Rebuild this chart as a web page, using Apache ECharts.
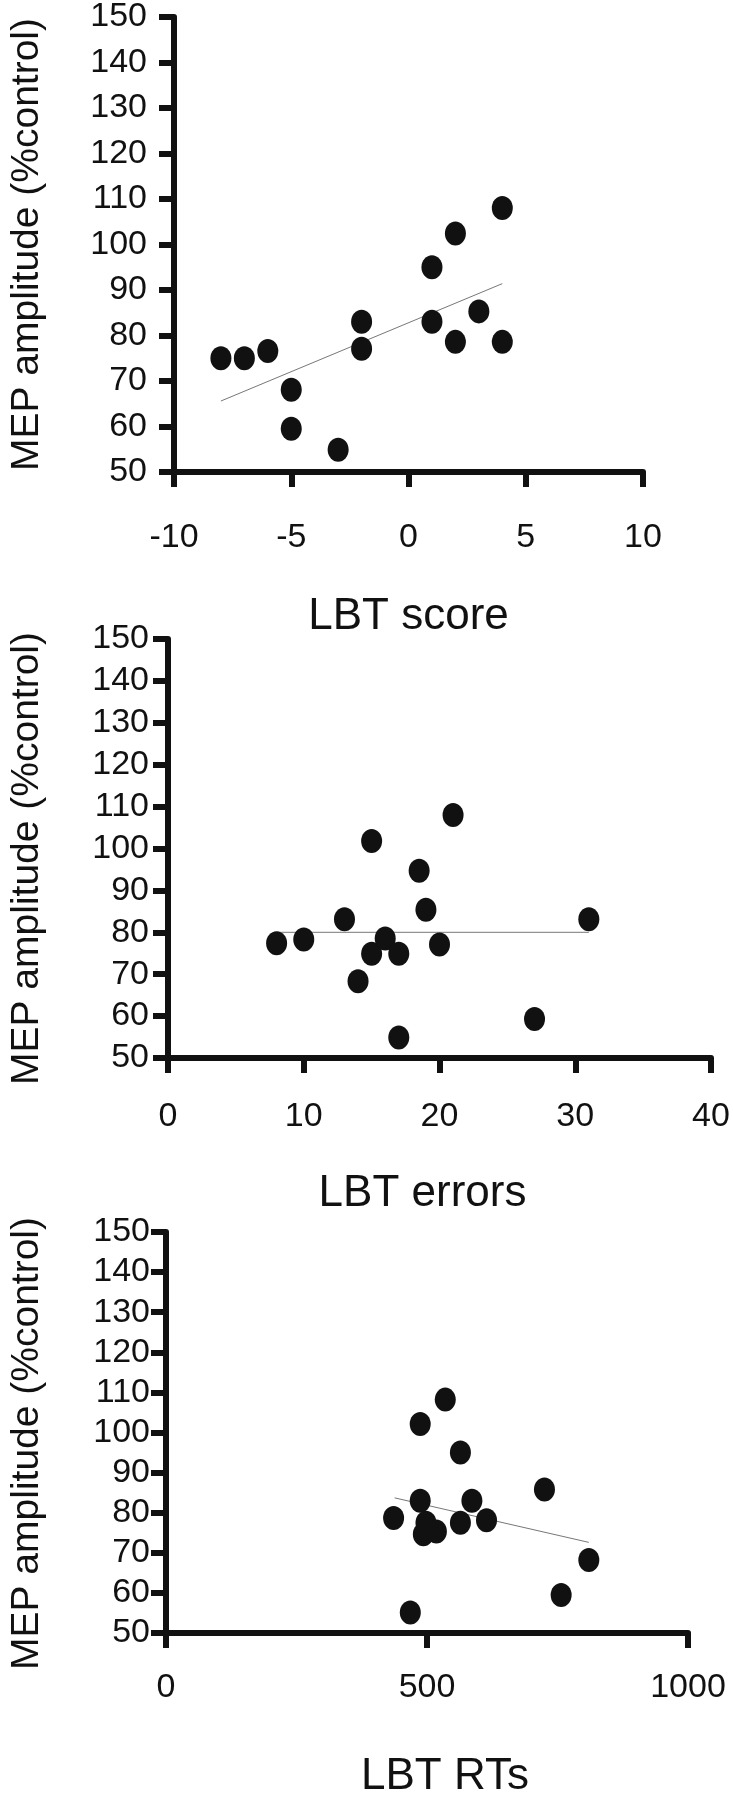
<!DOCTYPE html>
<html>
<head>
<meta charset="utf-8">
<script src="https://cdn.jsdelivr.net/npm/echarts@6/dist/echarts.min.js"></script>
<style>
html,body{margin:0;padding:0;background:#fff;}
#chart{width:733px;height:1800px;}
</style>
</head>
<body>
<div id="chart"></div>
<script>
// ---- Data ----
var yTitle = 'MEP amplitude (%control)';

// Panel 1: LBT score
var scoreX = [-8, -7, -6, -5, -5, -3, -2, -2, 1, 1, 2, 2, 3, 4, 4];
var scoreY = [75, 75, 76.6, 68.1, 59.5, 54.9, 83, 77.1, 95, 83, 102.4, 78.6, 85.3, 108, 78.6];
var scoreFit = [[-8, 65.6], [4, 91.4]];

// Panel 2: LBT errors
var errX = [8, 10, 13, 14, 15, 15, 16, 17, 17, 18.5, 19, 20, 21, 27, 31];
var errY = [77.4, 78.3, 83.1, 68.3, 101.8, 74.9, 78.5, 74.9, 54.9, 94.7, 85.4, 77.1, 108, 59.3, 83.1];
var errFit = [[8, 80], [31, 80]];

// Panel 3: LBT RTs
var rtX = [436, 487, 487, 468, 535, 564, 564, 586, 614, 725, 757, 810, 498, 493, 518];
var rtY = [78.7, 102.1, 83, 55.1, 108.2, 95, 77.5, 83, 78.1, 85.8, 59.5, 68.2, 77.5, 74.6, 75.3];
var rtFit = [[438, 83.7], [810, 72.6]];

var xNames = ['LBT score', 'LBT errors', 'LBT RTs'];

function pairs(xs, ys) { return xs.map(function (x, i) { return [x, ys[i]]; }); }

var FONT = "'Liberation Sans', Arial, sans-serif";
var axisLineStyle = { color: '#111', width: 6 };
function plain(v) { return String(v); }

function yAxis(idx, labelMargin, nameGap, namePad) {
  return {
    gridIndex: idx, type: 'value', min: 50, max: 150, interval: 10,
    axisLine: { show: true, onZero: false, lineStyle: axisLineStyle },
    axisTick: { show: true, length: 15, lineStyle: { color: '#111', width: 6 } },
    axisLabel: { margin: labelMargin, fontFamily: FONT, fontSize: 34, color: '#111', formatter: plain,
                 showMinLabel: true, showMaxLabel: true, hideOverlap: false },
    splitLine: { show: false },
    name: yTitle, nameLocation: 'middle', nameGap: nameGap, nameRotate: 90,
    nameTextStyle: { fontFamily: FONT, fontSize: 39, color: '#111', padding: namePad }
  };
}
function xAxis(idx, min, max, interval, labelMargin, nameGap, namePad) {
  return {
    gridIndex: idx, type: 'value', min: min, max: max, interval: interval,
    axisLine: { show: true, onZero: false, lineStyle: axisLineStyle },
    axisTick: { show: true, length: 15, lineStyle: { color: '#111', width: 6 } },
    axisLabel: { margin: labelMargin, fontFamily: FONT, fontSize: 34, color: '#111', formatter: plain,
                 showMinLabel: true, showMaxLabel: true, hideOverlap: false },
    splitLine: { show: false },
    name: xNames[idx], nameLocation: 'middle', nameGap: nameGap,
    nameTextStyle: { fontFamily: FONT, fontSize: 44, color: '#111', padding: namePad }
  };
}

var chart = echarts.init(document.getElementById('chart'), null, { renderer: 'canvas' });
var ELLIPSE = 'path://M0,10 A10,10 0 1,1 20,10 A10,10 0 1,1 0,10 Z';
var scatterStyle = { type: 'scatter', symbol: ELLIPSE, symbolSize: [21, 24], itemStyle: { color: '#111', opacity: 1 }, z: 3 };
var fitStyle = { type: 'line', symbol: 'none', lineStyle: { color: '#777', width: 1 }, z: 2, silent: true };

chart.setOption({
  backgroundColor: '#fff',
  animation: false,
  grid: [
    { left: 149, top: 14, width: 494, height: 458 },
    { left: 142, top: 639, width: 569, height: 419 },
    { left: 140, top: 1232, width: 548, height: 418 }
  ],
  xAxis: [
    xAxis(0, -10, 10, 5, 49, 123, [0, 0, 0, 0]),
    xAxis(1, 0, 40, 10, 42, 114, [0, 34, 0, 0]),
    xAxis(2, 0, 1000, 500, 38, 122, [0, 0, 0, 36])
  ],
  yAxis: [
    yAxis(0, 27, 127, [0, 0, 0, 0]),
    yAxis(1, 19, 121, [0, 20, 0, 0]),
    yAxis(2, 16, 119, [0, 22, 0, 0])
  ],
  series: [
    Object.assign({ xAxisIndex: 0, yAxisIndex: 0, data: pairs(scoreX, scoreY) }, scatterStyle),
    Object.assign({ xAxisIndex: 0, yAxisIndex: 0, data: scoreFit }, fitStyle),
    Object.assign({ xAxisIndex: 1, yAxisIndex: 1, data: pairs(errX, errY) }, scatterStyle),
    Object.assign({ xAxisIndex: 1, yAxisIndex: 1, data: errFit }, fitStyle),
    Object.assign({ xAxisIndex: 2, yAxisIndex: 2, data: pairs(rtX, rtY) }, scatterStyle),
    Object.assign({ xAxisIndex: 2, yAxisIndex: 2, data: rtFit }, fitStyle)
  ]
});
</script>
</body>
</html>
